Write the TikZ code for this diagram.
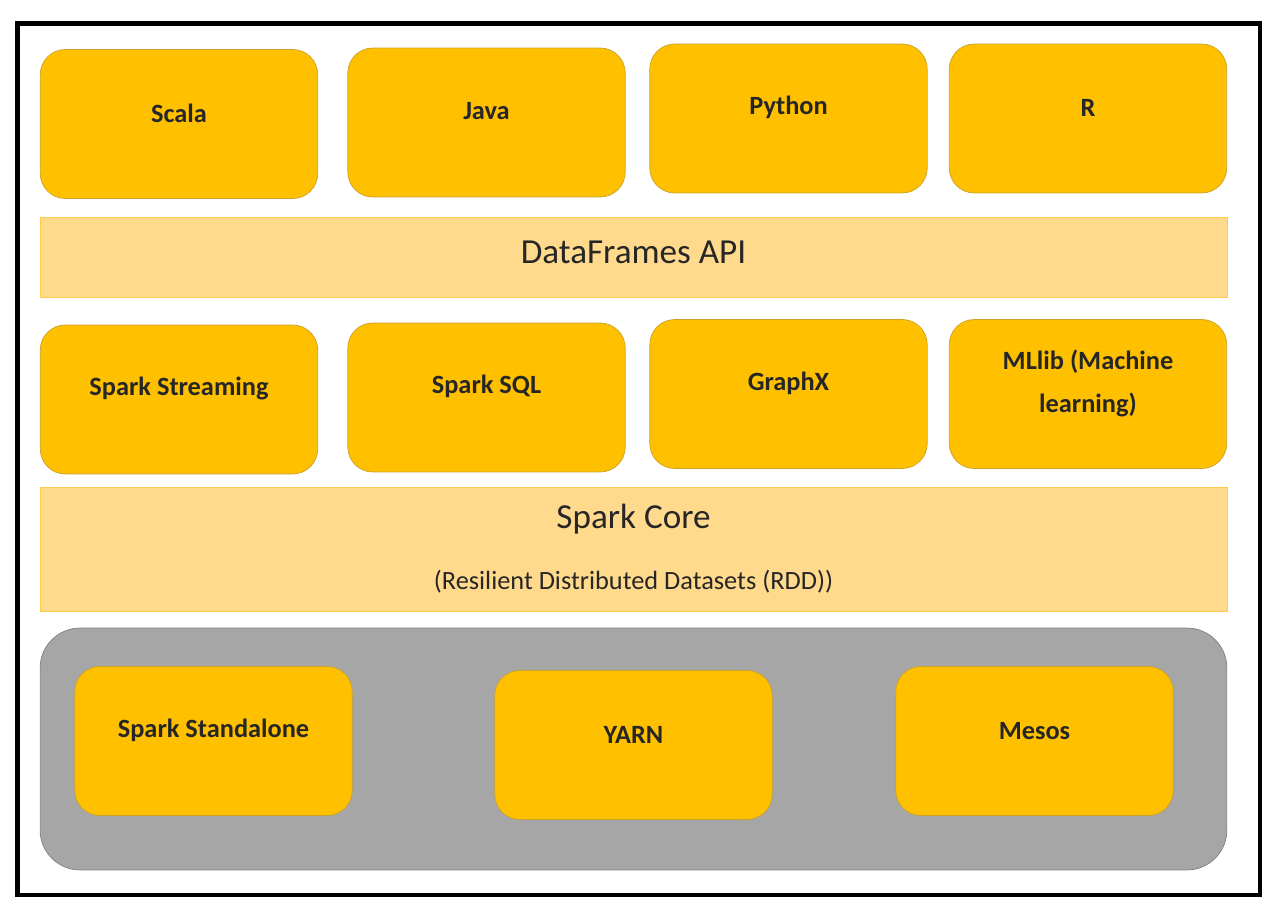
\documentclass[tikz,border=0pt]{standalone}
\usepackage{fontspec}
\setmainfont{Carlito}
\usepackage{tikz}

\definecolor{boxorange}{HTML}{FFC000}
\definecolor{boxedge}{HTML}{C9A227}
\definecolor{bandfill}{HTML}{FFD98C}
\definecolor{bandedge}{HTML}{FFCB4F}
\definecolor{mgrgray}{HTML}{A6A6A6}
\definecolor{mgredge}{HTML}{7F7F7F}
\definecolor{inkdark}{HTML}{262626}

\begin{document}
\begin{tikzpicture}[x=0.02cm,y=-0.02cm,
  box/.style={draw=boxedge,fill=boxorange,rounded corners=0.5cm,
    minimum width=5.55cm,minimum height=2.98cm,inner sep=0pt},
  band/.style={draw=bandedge,fill=bandfill,minimum width=23.74cm,inner sep=0pt},
  lbl/.style={text=inkdark,font=\bfseries\fontsize{15}{24}\selectfont,align=center},
  bandlbl/.style={text=inkdark,font=\fontsize{20}{24}\selectfont}]
\useasboundingbox (0,0) rectangle (1282,910);
\draw[line width=2.8pt] (17.5,23.5) rectangle (1260,895);

% languages
\node[box] (scala) at (179,124) {};
\node[box] (java) at (486.5,122.5) {};
\node[box] (python) at (788.5,118.5) {};
\node[box] (r) at (1088,118.5) {};
\node[lbl] at ([yshift=0.22cm]scala) {Scala};
\node[lbl] at ([yshift=0.22cm]java) {Java};
\node[lbl] at ([yshift=0.22cm]python) {Python};
\node[lbl] at ([yshift=0.22cm]r) {R};

\node[band,minimum height=1.6cm] (df) at (633.5,257) {};
\node[bandlbl] at ([yshift=0.1cm]df) {DataFrames API};

% libraries
\node[box] (stream) at (179,399.5) {};
\node[box] (sql) at (486.5,397.5) {};
\node[box] (graphx) at (788.5,394) {};
\node[box] (mllib) at (1088,394) {};
\node[lbl] at ([yshift=0.22cm]stream) {Spark Streaming};
\node[lbl] at ([yshift=0.22cm]sql) {Spark SQL};
\node[lbl] at ([yshift=0.22cm]graphx) {GraphX};
\node[lbl] at ([yshift=0.21cm]mllib) {MLlib (Machine\\learning)};

\node[band,minimum height=2.48cm] (core) at (633.5,549) {};
\node[bandlbl] at (633.5,519) {Spark Core};
\node[text=inkdark,font=\fontsize{15}{18}\selectfont] at (633.5,582) {(Resilient Distributed Datasets (RDD))};

% cluster managers
\node[draw=mgredge,fill=mgrgray,rounded corners=0.8cm,minimum width=23.74cm,
  minimum height=4.84cm,inner sep=0pt] (mgr) at (633.5,749) {};
\node[box] (standalone) at (213.5,741) {};
\node[box] (yarn) at (633.5,745) {};
\node[box] (mesos) at (1034.5,741) {};
\node[lbl] at ([yshift=0.22cm]standalone) {Spark Standalone};
\node[lbl] at ([yshift=0.2cm]yarn) {YARN};
\node[lbl] at ([yshift=0.2cm]mesos) {Mesos};
\end{tikzpicture}
\end{document}
